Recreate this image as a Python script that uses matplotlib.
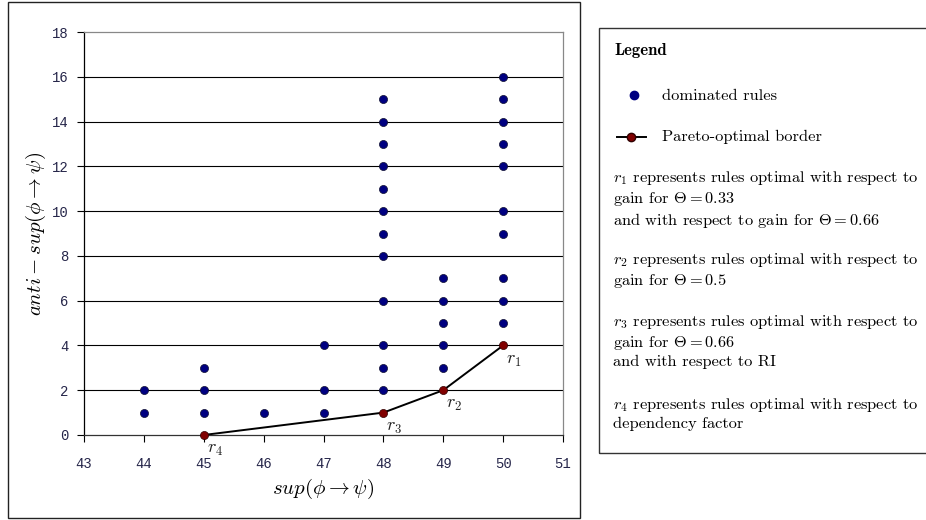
import matplotlib
matplotlib.use("Agg")
import matplotlib.pyplot as plt
from matplotlib.patches import Rectangle

plt.rcParams['mathtext.fontset'] = 'cm'

# dominated rules (support, anti-support)
dom_x = [44, 44,
         45, 45, 45,
         46,
         47, 47, 47,
         48, 48, 48, 48, 48, 48, 48, 48, 48, 48, 48, 48,
         49, 49, 49, 49, 49,
         50, 50, 50, 50, 50, 50, 50, 50, 50, 50]
dom_y = [1, 2,
         1, 2, 3,
         1,
         1, 2, 4,
         2, 3, 4, 6, 8, 9, 10, 11, 12, 13, 14, 15,
         3, 4, 5, 6, 7,
         5, 6, 7, 9, 10, 12, 13, 14, 15, 16]

# Pareto-optimal border
par_x = [45, 48, 49, 50]
par_y = [0, 1, 2, 4]
par_lbl = ['$r_4$', '$r_3$', '$r_2$', '$r_1$']

x_ticks = [43, 44, 45, 46, 47, 48, 49, 50, 51]
y_ticks = [0, 2, 4, 6, 8, 10, 12, 14, 16, 18]

legend_notes = [
    "$r_1$ represents rules optimal with respect to\ngain for $\\Theta = 0.33$\nand with respect to gain for $\\Theta = 0.66$",
    "$r_2$ represents rules optimal with respect to\ngain for $\\Theta = 0.5$",
    "$r_3$ represents rules optimal with respect to\ngain for $\\Theta = 0.66$\nand with respect to RI",
    "$r_4$ represents rules optimal with respect to\ndependency factor",
]

W, H = 926, 520
fig = plt.figure(figsize=(W / 100, H / 100), dpi=100)

# outer frame around the chart and the legend panel
fig.patches.append(Rectangle((8 / W, 2 / H), 572 / W, 516 / H, transform=fig.transFigure,
                             fill=False, edgecolor='#222222', linewidth=1.0))
fig.patches.append(Rectangle((599 / W, (H - 453) / H), 340 / W, 425 / H, transform=fig.transFigure,
                             fill=False, edgecolor='#333333', linewidth=1.0))

ax = fig.add_axes([84 / W, (H - 435) / H, 479 / W, 403 / H])
ax.set_xlim(43, 51)
ax.set_ylim(0, 18)
ax.set_xticks(x_ticks)
ax.set_yticks(y_ticks)

for yv in y_ticks[1:-1]:
    ax.axhline(yv, color='black', linewidth=0.8, zorder=1)

ax.spines['top'].set_color('#888888')
ax.spines['right'].set_color('#888888')
ax.spines['left'].set_color('black')
ax.spines['bottom'].set_color('#333333')
for s in ax.spines.values():
    s.set_linewidth(0.9)

ax.tick_params(axis='both', direction='out', length=5, width=0.8, colors='black')
ax.tick_params(axis='x', pad=11)
ax.tick_params(axis='y', pad=6)
for lab in ax.get_xticklabels() + ax.get_yticklabels():
    lab.set_fontfamily('Liberation Mono')
    lab.set_fontsize(10)
    lab.set_color('#26264a')

ax.scatter(dom_x, dom_y, s=34, color='#000080', edgecolors='#101030', linewidths=0.5, zorder=3)
ax.plot(par_x, par_y, color='black', linewidth=1.4, zorder=2)
ax.scatter(par_x, par_y, s=34, color='#800000', edgecolors='#300000', linewidths=0.5, zorder=4,
           clip_on=False)
for xv, yv, lb in zip(par_x, par_y, par_lbl):
    ax.annotate(lb, (xv, yv), xytext=(2, -13), textcoords='offset points',
                fontsize=13, color='#222222')

ax.set_xlabel(r'$sup(\phi \rightarrow \psi)$', fontsize=15, labelpad=4)
ax.set_ylabel(r'$anti - sup(\phi \rightarrow \psi)$', fontsize=15, labelpad=3)

# legend panel
fig.text(614 / W, 1 - 50 / H, 'Legend', fontfamily='cmb10', fontsize=12, va='center')
fig.lines.append(plt.Line2D([634 / W], [1 - 95 / H], transform=fig.transFigure, marker='o',
                            markersize=6, color='#000080', linestyle='none'))
fig.text(662 / W, 1 - 96 / H, 'dominated rules', fontfamily='cmr10', fontsize=11.8, va='center')
fig.lines.append(plt.Line2D([617 / W, 631 / W, 646 / W], [1 - 137 / H] * 3, transform=fig.transFigure,
                            color='black', linewidth=1.4, marker='o', markevery=[1],
                            markersize=6, markerfacecolor='#800000', markeredgecolor='#300000'))
fig.text(662 / W, 1 - 137 / H, 'Pareto-optimal border', fontfamily='cmr10', fontsize=11.8, va='center')

note_tops = [178, 260, 322, 405]
for top, note in zip(note_tops, legend_notes):
    fig.text(613 / W, 1 - (top - 9) / H, note, fontfamily='cmr10', fontsize=11.8,
             va='top', linespacing=1.22)

fig.savefig('out.png', dpi=100)
